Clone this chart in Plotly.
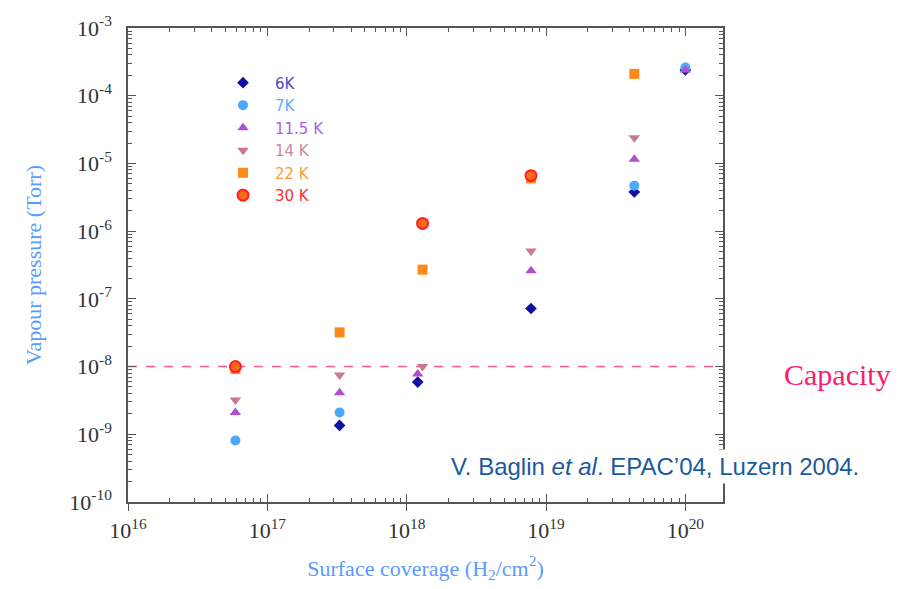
import plotly.graph_objects as go

# Data
x_vals = {
    "6K":   [3.3e17, 1.2e18, 7.8e18, 4.3e19, 1.0e20],
    "7K":   [5.9e16, 3.3e17, 4.3e19, 1.0e20],
    "11.5K": [5.9e16, 3.3e17, 1.2e18, 7.8e18, 4.3e19, 1.0e20],
    "14K":  [5.9e16, 3.3e17, 1.3e18, 7.8e18, 4.3e19],
    "22K":  [5.9e16, 3.3e17, 1.3e18, 7.8e18, 4.3e19],
    "30K":  [5.9e16, 1.3e18, 7.8e18],
}
y_vals = {
    "6K":   [1.35e-9, 5.9e-9, 7.2e-8, 3.8e-6, 2.4e-4],
    "7K":   [8.1e-10, 2.1e-9, 4.7e-6, 2.6e-4],
    "11.5K": [2.1e-9, 4.1e-9, 7.8e-9, 2.6e-7, 1.15e-5, 2.4e-4],
    "14K":  [3.2e-9, 7.5e-9, 1.0e-8, 5.1e-7, 2.4e-5],
    "22K":  [9.2e-9, 3.2e-8, 2.7e-7, 6.0e-6, 2.1e-4],
    "30K":  [1.0e-8, 1.3e-6, 6.6e-6],
}
labels = {"6K": "6K", "7K": "7K", "11.5K": "11.5 K", "14K": "14 K", "22K": "22 K", "30K": "30 K"}
symbols = {"6K": "diamond", "7K": "circle", "11.5K": "triangle-up", "14K": "triangle-down",
           "22K": "square", "30K": "circle"}
colors = {"6K": "#1010a0", "7K": "#4aa8ff", "11.5K": "#b04ed4", "14K": "#c87890",
          "22K": "#ff8a1a", "30K": "#ff1f1f"}
text_colors = {"6K": "#4a4ac0", "7K": "#5ab0ff", "11.5K": "#b060d8", "14K": "#c88aa0",
               "22K": "#ff9a3a", "30K": "#ff3030"}
sizes = {"6K": 9, "7K": 10, "11.5K": 10, "14K": 10, "22K": 10, "30K": 11}

capacity = 1e-8
x_range_log = [16, 20.27]
y_range_log = [-10, -3]
xticks = [1e16, 1e17, 1e18, 1e19, 1e20]
xticktext = ["10<sup>16</sup>", "10<sup>17</sup>", "10<sup>18</sup>", "10<sup>19</sup>", "10<sup>20</sup>"]
yticks = [1e-10, 1e-9, 1e-8, 1e-7, 1e-6, 1e-5, 1e-4, 1e-3]
yticktext = ["10<sup>-10</sup>", "10<sup>-9</sup>", "10<sup>-8</sup>", "10<sup>-7</sup>",
             "10<sup>-6</sup>", "10<sup>-5</sup>", "10<sup>-4</sup>", "10<sup>-3</sup>"]

fig = go.Figure()

# capacity line
fig.add_trace(go.Scatter(x=[10**x_range_log[0], 10**x_range_log[1]], y=[capacity, capacity],
                         mode="lines", line=dict(color="#ff5a9a", width=1.5, dash="dash"),
                         showlegend=False, hoverinfo="skip"))

for key in ["6K", "7K", "11.5K", "14K", "22K", "30K"]:
    marker = dict(symbol=symbols[key], color=colors[key], size=sizes[key], line=dict(width=0))
    if key == "30K":
        marker = dict(symbol="circle", color="#ff6a1a", size=sizes[key],
                      line=dict(color=colors[key], width=2))
    fig.add_trace(go.Scatter(
        x=x_vals[key], y=y_vals[key], mode="markers", marker=marker,
        name=f'<span style="color:{text_colors[key]}">{labels[key]}</span>'))

# empty trace carrying the overlay axis (outer half of the crossing x ticks)
fig.add_trace(go.Scatter(x=[], y=[], xaxis="x2", yaxis="y", showlegend=False, hoverinfo="skip"))

serif = "Liberation Serif, Times New Roman, serif"
axis_common = dict(
    type="log", showline=True, linecolor="#555555", linewidth=1.5, mirror="ticks",
    ticks="inside", ticklen=8, tickwidth=1.2, tickcolor="#555555",
    showgrid=False, zeroline=False,
    tickfont=dict(family=serif, size=22, color="#333333"),
    minor=dict(ticks="inside", ticklen=4, tickwidth=1, tickcolor="#555555", dtick="D1", showgrid=False),
)

fig.update_layout(
    xaxis=dict(**axis_common, range=x_range_log, tickvals=xticks, ticktext=xticktext,
               ticklabelstandoff=8,
               title=dict(text="Surface coverage (H<sub>2</sub>/cm<sup>2</sup>)",
                          font=dict(family=serif, size=22, color="#5a9aff"), standoff=18)),
    xaxis2=dict(type="log", overlaying="x", side="bottom", range=x_range_log, tickvals=xticks,
                ticks="outside", ticklen=8, tickwidth=1.2, tickcolor="#555555",
                showticklabels=False, showline=False, showgrid=False, zeroline=False),
    yaxis=dict(**axis_common, range=y_range_log, tickvals=yticks, ticktext=yticktext,
               ticklabelstandoff=10,
               title=dict(text="Vapour pressure (Torr)",
                          font=dict(family=serif, size=22, color="#5a9aff"), standoff=22)),
)

fig.add_annotation(x=1.193, y=-8, xref="paper", yref="y", yanchor="middle", xanchor="center",
                   yshift=-8, text="Capacity", showarrow=False,
                   font=dict(family=serif, size=30, color="#ff1a70"))
fig.add_annotation(x=(655 - 128) / (723 - 128), y=(502 - 466) / (502 - 22), xref="paper", yref="paper",
                   xanchor="center", yanchor="middle",
                   text="V. Baglin <i>et al</i>. EPAC\u201904, Luzern 2004.", showarrow=False,
                   bgcolor="white", borderpad=3,
                   font=dict(family="Liberation Sans, Arial, sans-serif", size=24, color="#1a5a9e"))

fig.update_layout(
    width=898, height=589,
    margin=dict(l=128, r=175, t=22, b=87),
    paper_bgcolor="white", plot_bgcolor="white",
    showlegend=True,
    legend=dict(x=0.1395, y=0.919, xanchor="left", yanchor="top", bgcolor="rgba(0,0,0,0)",
                font=dict(family="DejaVu Sans, sans-serif", size=15), itemwidth=54,
                tracegroupgap=0),
)

fig.write_html("out.html")
